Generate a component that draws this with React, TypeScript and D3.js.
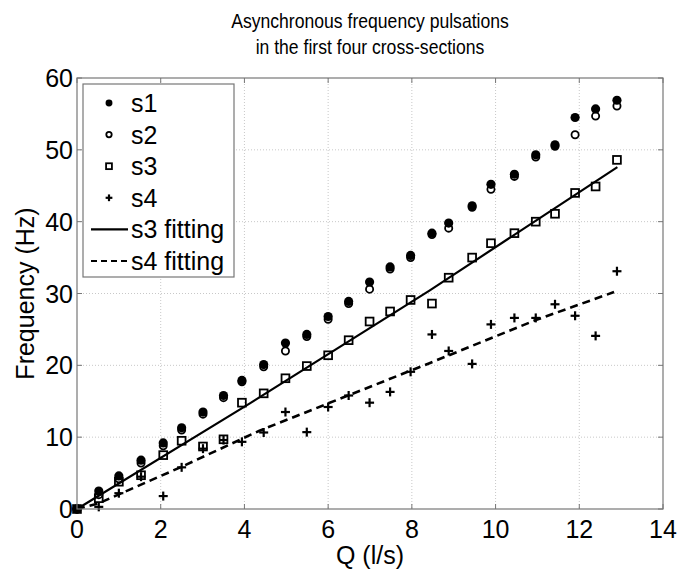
import React from "react";
import * as d3 from "d3";

const qValues = [0, 0.52, 1.0, 1.53, 2.06, 2.5, 3.01, 3.5, 3.94, 4.46, 4.98, 5.49, 6.0, 6.49, 6.99, 7.48, 7.97, 8.48, 8.88, 9.44, 9.89, 10.45, 10.96, 11.42, 11.9, 12.39, 12.9];
const s1 = [0, 2.5, 4.6, 6.8, 9.2, 11.3, 13.5, 15.8, 17.9, 20.1, 23.1, 24.3, 26.8, 28.9, 31.6, 33.7, 35.3, 38.4, 39.8, 42.2, 45.2, 46.6, 49.3, 50.7, 54.5, 55.7, 56.9];
const s2 = [0, 2.0, 4.2, 6.4, 8.8, 11.0, 13.2, 15.5, 17.7, 19.8, 22.0, 24.0, 26.4, 28.6, 30.6, 33.4, 35.0, 38.2, 39.1, 42.0, 44.5, 46.3, 49.0, 50.5, 52.1, 54.7, 56.1];
const s3 = [0, 1.5, 3.8, 4.7, 7.5, 9.5, 8.7, 9.7, 14.8, 16.1, 18.2, 19.9, 21.4, 23.5, 26.1, 27.5, 29.1, 28.6, 32.2, 35.0, 37.0, 38.4, 40.0, 41.1, 44.0, 44.9, 48.6];
const s4 = [0, 0.3, 2.2, 4.5, 1.8, 5.8, 8.4, 9.6, 9.35, 10.65, 13.5, 10.7, 14.2, 15.8, 14.8, 16.3, 19.1, 24.3, 22.0, 20.2, 25.7, 26.6, 26.6, 28.5, 26.9, 24.1, 33.1];

const fit3Q = [0, 4.13, 8.42, 12.91];
const fit3F = [0, 14.7, 30.4, 47.6];
const fit4Q = [0, 0.52, 2.47, 4.36, 8.42, 10.96, 12.83];
const fit4F = [0, 0.8, 5.8, 10.9, 20.3, 26.3, 30.2];

const xTicks = [0, 2, 4, 6, 8, 10, 12, 14];
const yTicks = [0, 10, 20, 30, 40, 50, 60];
const titleLines = ["Asynchronous frequency pulsations", "in the first four cross-sections"];
const legendLabels = ["s1", "s2", "s3", "s4", "s3 fitting", "s4 fitting"];

const W = 677, H = 572;
const L = 77, R = 663, T = 78, B = 509;
const FONT = "'Liberation Sans', Arial, Helvetica, sans-serif";

function Marker({ kind, x, y, s = 1 }: { kind: string; x: number; y: number; s?: number }) {
  if (kind === "s1") return <circle cx={x} cy={y} r={4.6 * s} fill="#000" />;
  if (kind === "s2") return <circle cx={x} cy={y} r={3.6 * s} fill="none" stroke="#000" strokeWidth={1.8} />;
  if (kind === "s3") {
    const h = 3.9 * s;
    return <rect x={x - h} y={y - h} width={2 * h} height={2 * h} fill="none" stroke="#000" strokeWidth={1.8} />;
  }
  const h = 4.5 * s;
  return (
    <g stroke="#000" strokeWidth={2.2}>
      <line x1={x - h} x2={x + h} y1={y} y2={y} />
      <line x1={x} x2={x} y1={y - h} y2={y + h} />
    </g>
  );
}

export default function App() {
  const x = d3.scaleLinear().domain([0, 14]).range([L, R]);
  const y = d3.scaleLinear().domain([0, 60]).range([B, T]);
  const line = d3.line<[number, number]>().x((d) => x(d[0])).y((d) => y(d[1]));
  const fit3 = line(fit3Q.map((q, i) => [q, fit3F[i]] as [number, number])) || "";
  const fit4 = line(fit4Q.map((q, i) => [q, fit4F[i]] as [number, number])) || "";
  const series: [string, number[]][] = [["s1", s1], ["s2", s2], ["s3", s3], ["s4", s4]];

  const legX = 83, legY = 84, legW = 151, legH = 193;
  const rowY = (i: number) => 103 + i * 31.6;

  return (
    <svg width={W} height={H} style={{ position: "absolute", left: 0, top: 0, background: "#fff" }} fontFamily={FONT}>
      <rect x={0} y={0} width={W} height={H} fill="#fff" />
      {titleLines.map((t, i) => (
        <g key={t} transform={`translate(${(L + R) / 2},${28 + i * 26}) scale(0.88,1)`}>
          <text x={0} y={0} textAnchor="middle" fontSize={20} fill="#000">{t}</text>
        </g>
      ))}
      {/* grid */}
      {xTicks.slice(1, -1).map((t) => (
        <line key={"gx" + t} x1={x(t)} x2={x(t)} y1={T} y2={B} stroke="#c8c8c8" strokeWidth={1} strokeDasharray="1,2" />
      ))}
      {yTicks.slice(1, -1).map((t) => (
        <line key={"gy" + t} x1={L} x2={R} y1={y(t)} y2={y(t)} stroke="#c8c8c8" strokeWidth={1} strokeDasharray="1,2" />
      ))}
      {/* ticks inward */}
      {xTicks.map((t) => (
        <g key={"tx" + t} stroke="#777" strokeWidth={1}>
          <line x1={x(t)} x2={x(t)} y1={B} y2={B - 5} />
          <line x1={x(t)} x2={x(t)} y1={T} y2={T + 5} />
        </g>
      ))}
      {yTicks.map((t) => (
        <g key={"ty" + t} stroke="#777" strokeWidth={1}>
          <line x1={L} x2={L + 5} y1={y(t)} y2={y(t)} />
          <line x1={R} x2={R - 5} y1={y(t)} y2={y(t)} />
        </g>
      ))}
      {/* fits */}
      <path d={fit3} fill="none" stroke="#000" strokeWidth={2.2} />
      <path d={fit4} fill="none" stroke="#000" strokeWidth={2.6} strokeDasharray="8,5" />
      {/* data */}
      {series.map(([k, vals]) => (
        <g key={k}>
          {vals.map((v, i) => (
            <Marker key={i} kind={k} x={x(qValues[i])} y={y(v)} />
          ))}
        </g>
      ))}
      {/* axes box */}
      <rect x={L} y={T} width={R - L} height={B - T} fill="none" stroke="#777" strokeWidth={1.2} />
      {/* tick labels */}
      {xTicks.map((t) => (
        <text key={"lx" + t} x={x(t)} y={B + 29} textAnchor="middle" fontSize={25} fill="#000">{t}</text>
      ))}
      {yTicks.map((t) => (
        <text key={"ly" + t} x={L - 4} y={y(t) + 9} textAnchor="end" fontSize={25} fill="#000">{t}</text>
      ))}
      <text x={(L + R) / 2} y={564} textAnchor="middle" fontSize={25} fill="#000">Q (l/s)</text>
      <text transform={`translate(34,${(T + B) / 2}) rotate(-90)`} textAnchor="middle" fontSize={25} fill="#000">Frequency (Hz)</text>
      {/* legend */}
      <rect x={legX} y={legY} width={legW} height={legH} fill="#fff" stroke="#777" strokeWidth={1.2} />
      {legendLabels.map((lab, i) => {
        const cy = rowY(i);
        return (
          <g key={lab}>
            {i < 4 ? (
              <Marker kind={series[i][0]} x={109} y={cy} s={0.75} />
            ) : (
              <line x1={91} x2={128} y1={cy} y2={cy} stroke="#000" strokeWidth={2.2} strokeDasharray={i === 5 ? "6,4" : undefined} />
            )}
            <text x={131} y={cy + 9} fontSize={25} fill="#000">{lab}</text>
          </g>
        );
      })}
    </svg>
  );
}
